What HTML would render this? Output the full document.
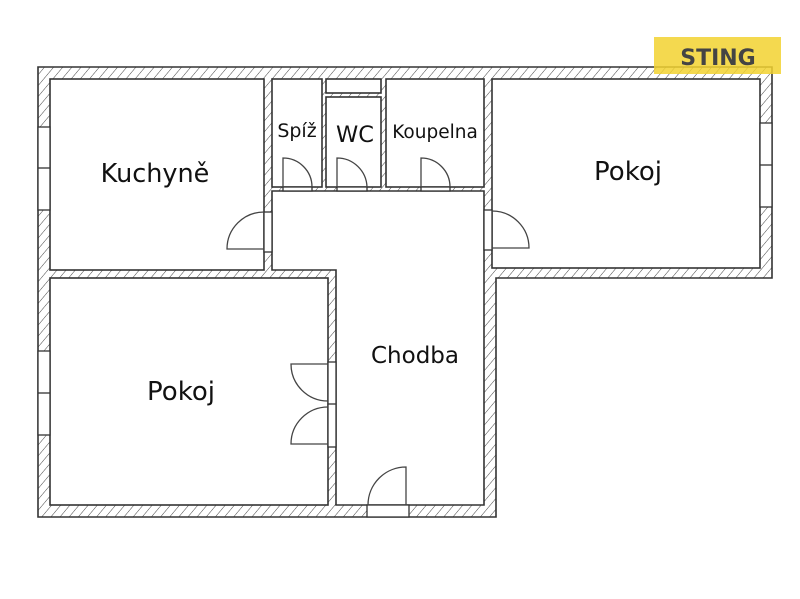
<!DOCTYPE html>
<html><head><meta charset="utf-8"><style>
html,body{margin:0;padding:0;background:#fff;}
svg{display:block;}
text{font-family:"DejaVu Sans","Liberation Sans",sans-serif;fill:#111;}
</style></head><body>
<svg width="800" height="599" viewBox="0 0 800 599" xmlns="http://www.w3.org/2000/svg">
<defs>
<pattern id="h" patternUnits="userSpaceOnUse" width="7" height="7" patternTransform="rotate(40)">
<rect width="7" height="7" fill="#fff"/>
<line x1="0" y1="0" x2="0" y2="7" stroke="#444" stroke-width="1"/>
</pattern>
</defs>
<rect width="800" height="599" fill="#fff"/>
<g stroke="#333" stroke-width="1.6">
<polygon points="38,67 772,67 772,278 496,278 496,517 38,517" fill="url(#h)"/>
<rect x="50" y="79" width="214" height="191" fill="#fff"/>
<rect x="50" y="278" width="278" height="227" fill="#fff"/>
<polygon points="272,191 484,191 484,505 336,505 336,270 272,270" fill="#fff"/>
<rect x="492" y="79" width="268" height="189" fill="#fff"/>
<rect x="272" y="79" width="50" height="108" fill="#fff"/>
<rect x="326" y="79" width="55" height="14" fill="#fff"/>
<rect x="326" y="97" width="55" height="90" fill="#fff"/>
<rect x="386" y="79" width="98" height="108" fill="#fff"/>
</g>
<g stroke="#333" stroke-width="1.3" fill="#fff">
<rect x="38" y="127" width="12" height="83"/><line x1="38" y1="168" x2="50" y2="168"/>
<rect x="38" y="351" width="12" height="84"/><line x1="38" y1="393" x2="50" y2="393"/>
<rect x="760" y="123" width="12" height="84"/><line x1="760" y1="165" x2="772" y2="165"/>
<rect x="264" y="212" width="8" height="40"/>
<rect x="484" y="210" width="8" height="40"/>
<rect x="328" y="362" width="8" height="85"/><line x1="328" y1="404" x2="336" y2="404"/>
<rect x="367" y="505" width="42" height="12"/>
<rect x="283" y="187" width="29" height="4"/>
<rect x="337" y="187" width="30" height="4"/>
<rect x="421" y="187" width="29" height="4"/>
</g>
<g stroke="#444" stroke-width="1.3" fill="none">
<path d="M264,249 H227 A37,37 0 0 1 264,212"/>
<path d="M492,248 H529 A37,37 0 0 0 492,211"/>
<path d="M283,187 V158 A29,29 0 0 1 312,187"/>
<path d="M337,187 V158 A30,30 0 0 1 367,187"/>
<path d="M421,187 V158 A29,29 0 0 1 450,187"/>
<path d="M328,364 H291 A37,37 0 0 0 328,401"/>
<path d="M328,444 H291 A37,37 0 0 1 328,407"/>
<path d="M406,505 V467 A38,38 0 0 0 368,505"/>
</g>
<text x="155" y="182" font-size="25.5" text-anchor="middle">Kuchyně</text>
<text x="297" y="137" font-size="19" text-anchor="middle">Spíž</text>
<text x="355" y="142" font-size="22.5" text-anchor="middle">WC</text>
<text x="435" y="138" font-size="18.5" text-anchor="middle">Koupelna</text>
<text x="628" y="180" font-size="26" text-anchor="middle">Pokoj</text>
<text x="181" y="400" font-size="26" text-anchor="middle">Pokoj</text>
<text x="415" y="363" font-size="23" text-anchor="middle">Chodba</text>
<rect x="654" y="37" width="127" height="37" fill="#f2d230" opacity="0.85"/>
<text x="718" y="65" font-size="22" font-weight="bold" text-anchor="middle" style="fill:#444;font-family:'DejaVu Sans',sans-serif">STING</text>
</svg>
</body></html>
